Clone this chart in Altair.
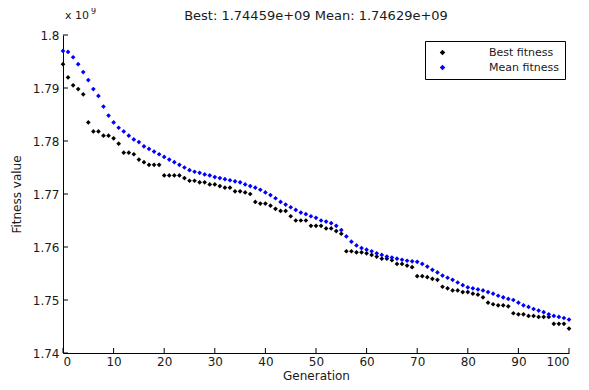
import altair as alt
import pandas as pd

generations = list(range(101))

best = [1.7945, 1.7920, 1.7905, 1.7898, 1.7888, 1.7835, 1.7818, 1.7818, 1.7810, 1.7810,
        1.7805, 1.7795, 1.7778, 1.7778, 1.7775, 1.7765, 1.7760, 1.7755, 1.7755, 1.7755,
        1.7735, 1.7735, 1.7735, 1.7735, 1.7730, 1.7725, 1.7725, 1.7722, 1.7722, 1.7718,
        1.7718, 1.7715, 1.7712, 1.7712, 1.7705, 1.7705, 1.7703, 1.7700, 1.7685, 1.7682,
        1.7682, 1.7678, 1.7672, 1.7668, 1.7668, 1.7658, 1.7650, 1.7650, 1.7650, 1.7640,
        1.7640, 1.7640, 1.7635, 1.7635, 1.7630, 1.7625, 1.7592, 1.7592, 1.7590, 1.7590,
        1.7588, 1.7585, 1.7582, 1.7578, 1.7578, 1.7575, 1.7568, 1.7568, 1.7565, 1.7562,
        1.7545, 1.7545, 1.7543, 1.7540, 1.7538, 1.7525, 1.7522, 1.7518, 1.7518, 1.7515,
        1.7515, 1.7512, 1.7510, 1.7505, 1.7495, 1.7492, 1.7490, 1.7490, 1.7488, 1.7475,
        1.7473, 1.7473, 1.7470, 1.7470, 1.7468, 1.7468, 1.7468, 1.7455, 1.7455, 1.7455,
        1.7446]

mean = [1.7970, 1.7968, 1.7958, 1.7945, 1.7930, 1.7915, 1.7898, 1.7885, 1.7865, 1.7848,
        1.7835, 1.7825, 1.7818, 1.7810, 1.7803, 1.7798, 1.7790, 1.7785, 1.7780, 1.7775,
        1.7770, 1.7765, 1.7760, 1.7755, 1.7750, 1.7745, 1.7742, 1.7740, 1.7737, 1.7735,
        1.7732, 1.7730, 1.7728, 1.7726, 1.7724, 1.7722, 1.7718, 1.7715, 1.7712, 1.7708,
        1.7703, 1.7698, 1.7692, 1.7685, 1.7680, 1.7675, 1.7670, 1.7665, 1.7662, 1.7658,
        1.7655, 1.7650, 1.7648, 1.7645, 1.7640, 1.7632, 1.7620, 1.7610, 1.7603, 1.7598,
        1.7595, 1.7592, 1.7588, 1.7585, 1.7582, 1.7580, 1.7578, 1.7576, 1.7574, 1.7573,
        1.7572, 1.7568, 1.7563, 1.7557, 1.7552, 1.7546, 1.7542, 1.7538, 1.7533, 1.7528,
        1.7524, 1.7522, 1.7520, 1.7518, 1.7515, 1.7512, 1.7508, 1.7505, 1.7502, 1.7500,
        1.7495, 1.7490, 1.7487, 1.7483, 1.7480, 1.7477, 1.7473, 1.7470, 1.7468, 1.7466,
        1.7463]

series_names = ["Best fitness", "Mean fitness"]
series_colors = ["#000000", "#0000ff"]
x_ticks = [0, 10, 20, 30, 40, 50, 60, 70, 80, 90, 100]
y_ticks = [1.74, 1.75, 1.76, 1.77, 1.78, 1.79, 1.80]
title_text = "Best: 1.74459e+09 Mean: 1.74629e+09"

rows = []
for g, b, m in zip(generations, best, mean):
    rows.append({"Generation": g, "value": b, "series": series_names[0]})
    rows.append({"Generation": g, "value": m, "series": series_names[1]})
df = pd.DataFrame(rows)

FONT = "DejaVu Sans"
TXT = "#1a1a1a"
W, H = 506, 318
PAD_L = 55

xs = alt.Scale(domain=[0, 100], nice=False)
ys = alt.Scale(domain=[1.74, 1.80], nice=False, zero=False)

points = alt.Chart(df).mark_point(shape="diamond", filled=True, size=22, opacity=1).encode(
    x=alt.X("Generation:Q", scale=xs,
            axis=alt.Axis(values=x_ticks, tickSize=0, labelPadding=3, grid=False,
                          domainColor="black", labelColor=TXT, labelFontSize=12,
                          labelFont=FONT, title="Generation", titleFont=FONT,
                          titleFontSize=12, titleFontWeight="normal", titleColor=TXT,
                          titlePadding=3)),
    y=alt.Y("value:Q", scale=ys,
            axis=alt.Axis(values=y_ticks, tickSize=0, labelPadding=4, grid=False,
                          format=".3~f", domainColor="black", labelColor=TXT,
                          labelFontSize=12, labelFont=FONT, title="Fitness value",
                          titleFont=FONT, titleFontSize=12, titleFontWeight="normal",
                          titleColor=TXT, titlePadding=9)),
    color=alt.Color("series:N",
                    scale=alt.Scale(domain=series_names, range=series_colors),
                    legend=alt.Legend(title=None, orient="none", legendX=362, legendY=6,
                                      strokeColor="black", fillColor="white",
                                      padding=6, labelFont=FONT, labelFontSize=11,
                                      labelColor=TXT, labelAlign="left",
                                      symbolType="diamond", symbolSize=30,
                                      labelOffset=41, rowPadding=3, symbolOffset=6)),
)

xt = alt.Chart(pd.DataFrame({"t": x_ticks})).mark_rule(color="black").encode(
    x=alt.X("t:Q", scale=xs), y=alt.value(H), y2=alt.value(H - 5))
yt = alt.Chart(pd.DataFrame({"t": y_ticks})).mark_rule(color="black").encode(
    y=alt.Y("t:Q", scale=ys), x=alt.value(0), x2=alt.value(5))

title = alt.Chart(pd.DataFrame({"t": [title_text]})).mark_text(
    font=FONT, fontSize=13, color=TXT, align="center", baseline="middle").encode(
    text="t:N", x=alt.value(W / 2), y=alt.value(-19))

exp1 = alt.Chart(pd.DataFrame({"t": ["x 10"]})).mark_text(
    font=FONT, fontSize=11, color=TXT, align="left", baseline="top").encode(
    text="t:N", x=alt.value(2), y=alt.value(-25))
exp2 = alt.Chart(pd.DataFrame({"t": ["9"]})).mark_text(
    font=FONT, fontSize=8, color=TXT, align="left", baseline="top").encode(
    text="t:N", x=alt.value(28), y=alt.value(-27))

chart = alt.layer(points, xt, yt, title, exp1, exp2).properties(
    width=W, height=H,
    autosize=alt.AutoSizeParams(type="none"),
    padding={"left": PAD_L, "top": 27, "right": 12, "bottom": 29},
    background="white",
).configure_view(stroke=None)

chart.save("out.html", embed_options={"renderer": "svg", "actions": False})
